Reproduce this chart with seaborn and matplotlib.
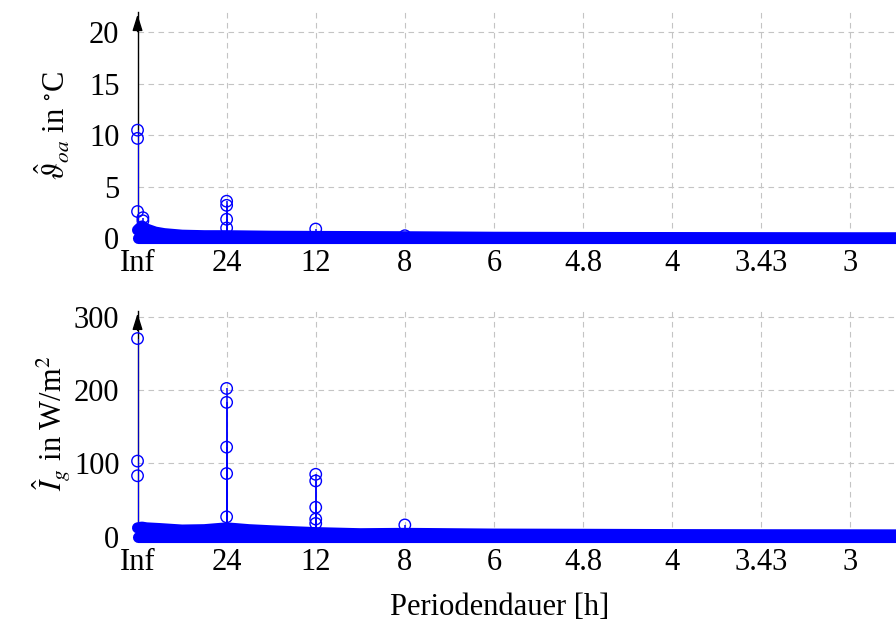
import matplotlib.pyplot as plt
import numpy as np
import seaborn as sns

# x is measured in cycles per day (24 / period in hours)
TICK_POS = [0, 1, 2, 3, 4, 5, 6, 7, 8]
TICK_LABELS = ["Inf", "24", "12", "8", "6", "4.8", "4", "3.43", "3"]

# outdoor air temperature amplitude spectrum
TEMP_PEAK_X = [0, 0, 0, 0.06, 0.06, 1, 1, 1, 1, 2, 3]
TEMP_PEAK_Y = [10.5, 9.7, 2.6, 2.0, 1.7, 3.6, 3.2, 1.85, 1.0, 0.9, 0.25]
TEMP_FLOOR_X = [0, 0.05, 0.1, 0.2, 0.3, 0.5, 0.75, 1, 1.5, 2, 3, 4, 5, 6, 7, 8, 8.6]
TEMP_FLOOR_Y = [0.8, 1.2, 0.9, 0.6, 0.45, 0.3, 0.25, 0.25, 0.2, 0.18, 0.15, 0.1,
                0.08, 0.07, 0.06, 0.05, 0.05]
TEMP_YTICKS = [0, 5, 10, 15, 20]

# global irradiance amplitude spectrum
IRR_PEAK_X = [0, 0, 0, 1, 1, 1, 1, 1, 2, 2, 2, 2, 2, 3]
IRR_PEAK_Y = [270, 103, 83, 202, 183, 122, 86, 27, 85, 76, 40, 24, 18, 16]
IRR_FLOOR_X = [0, 0.05, 0.1, 0.25, 0.5, 0.75, 1, 1.25, 1.5, 2, 2.5, 3, 4, 5, 6, 7, 8, 8.6]
IRR_FLOOR_Y = [12, 13, 12, 11, 9, 9.5, 12, 9.5, 8, 5.5, 4, 4.5, 3.5, 3.2, 2.8,
               2.6, 2.5, 2.4]
IRR_YTICKS = [0, 100, 200, 300]

BLUE = "#0000ff"

sns.set_style("white")
plt.rcParams.update(
    {
        "font.family": ["Liberation Serif", "DejaVu Serif"],
        "mathtext.fontset": "stix",
        "font.size": 22,
        "text.color": "black",
        "axes.labelcolor": "black",
        "xtick.color": "black",
        "ytick.color": "black",
    }
)


def spectrum(ax, peak_x, peak_y, floor_x, floor_y, yticks, ymax, ylabel):
    # dense low-amplitude band of the spectrum
    ax.fill_between(floor_x, 0, floor_y, color=BLUE, lw=0, zorder=3, clip_on=False)
    for yy in (floor_y, np.zeros(len(floor_y))):
        sns.lineplot(x=floor_x, y=yy, ax=ax, color=BLUE, lw=8,
                     solid_capstyle="round", solid_joinstyle="round",
                     zorder=3, clip_on=False, estimator=None, sort=False)
    # stems and circle markers of the dominant components
    ax.vlines(peak_x, 0, peak_y, color=BLUE, lw=1.1, zorder=4)
    sns.scatterplot(x=peak_x, y=peak_y, ax=ax, marker="o", s=68,
                    facecolor="none", edgecolor=BLUE, linewidth=1.0,
                    zorder=5, clip_on=False)

    ax.set_xlim(0, 8.513)
    ax.set_ylim(0, ymax)
    ax.set_xticks(TICK_POS)
    ax.set_xticklabels(TICK_LABELS)
    ax.set_yticks(yticks)
    ax.tick_params(length=0)
    ax.tick_params(axis="x", pad=8)
    ax.tick_params(axis="y", pad=13)
    ax.grid(True, color="#c4c4c4", linestyle=(0, (5, 4)), lw=0.8)
    ax.set_axisbelow(True)
    for side in ("top", "right"):
        ax.spines[side].set_visible(False)
    for side in ("left", "bottom"):
        ax.spines[side].set_color("black")
        ax.spines[side].set_linewidth(1.0)
    ax.annotate("", xy=(0, 1), xytext=(0, 0.9), xycoords="axes fraction",
                arrowprops=dict(arrowstyle="-|>,head_length=0.7,head_width=0.22",
                                color="black", lw=1.0, mutation_scale=14))
    ax.set_ylabel(ylabel)
    ax.yaxis.set_label_coords(-0.086, 0.5)


fig = plt.figure(figsize=(8.96, 6.37), dpi=100)
ax_t = fig.add_axes([0.1535, 0.6259, 0.8465, 0.3557])
ax_b = fig.add_axes([0.1535, 0.1575, 0.8465, 0.3548])

spectrum(ax_t, TEMP_PEAK_X, TEMP_PEAK_Y, TEMP_FLOOR_X, TEMP_FLOOR_Y,
         TEMP_YTICKS, 22, r"$\hat{\vartheta}_{oa}$ in $^{\circ}$C")
spectrum(ax_b, IRR_PEAK_X, IRR_PEAK_Y, IRR_FLOOR_X, IRR_FLOOR_Y,
         IRR_YTICKS, 308, r"$\hat{I}_g$ in W/m$^2$")

ax_b.set_xlabel("Periodendauer [h]")
ax_b.xaxis.set_label_coords(0.478, -0.25)

fig.savefig("out.png", dpi=100)
